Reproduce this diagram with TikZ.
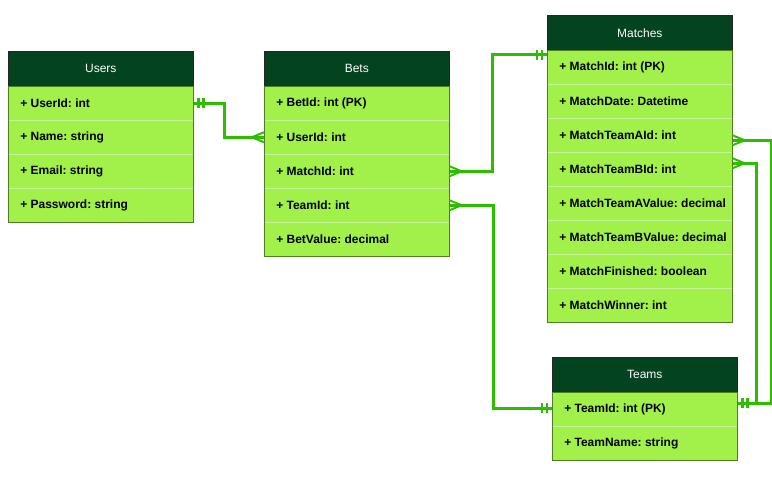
\documentclass[tikz,border=0pt]{standalone}
\usepackage{fontspec}
\setmainfont{Liberation Sans}
\frenchspacing
\usetikzlibrary{decorations.markings}
\definecolor{hdrgreen}{HTML}{03431F}
\definecolor{rowgreen}{HTML}{A2F04A}
\definecolor{rowedge}{HTML}{4F7F22}
\definecolor{rowsep}{HTML}{C6F49A}
\definecolor{linkgreen}{HTML}{2EBE00}

\begin{document}
\begin{tikzpicture}[x=0.75pt,y=-0.75pt,
  hdr/.style={draw=black!85,fill=hdrgreen,text=white,anchor=north west,
    minimum width=138.75pt,minimum height=26.25pt,inner sep=0pt,
    font=\fontsize{9}{11}\selectfont},
  attr/.style={draw=rowsep,fill=rowgreen,anchor=north west,
    minimum width=138.75pt,minimum height=25.5pt,inner xsep=9pt,inner ysep=0pt,
    font=\fontsize{9}{11}\selectfont\bfseries},
  link/.style={draw=linkgreen,line width=2.25pt},
  tick/.style={draw=linkgreen,line width=2pt},
  one start/.style={postaction={decorate,decoration={markings,
    mark=at position 3.75pt with {\draw[tick] (0,-3.75pt) -- (0,3.75pt);},
    mark=at position 7.5pt with {\draw[tick] (0,-3.75pt) -- (0,3.75pt);}}}},
  one end/.style={postaction={decorate,decoration={markings,
    mark=at position -3.75pt with {\draw[tick] (0,-3.75pt) -- (0,3.75pt);},
    mark=at position -7.5pt with {\draw[tick] (0,-3.75pt) -- (0,3.75pt);}}}},
  many start/.style={postaction={decorate,decoration={markings,
    mark=at position 9pt with {\draw[tick,line width=1.5pt] (-9pt,3.75pt) -- (0,0) -- (-9pt,-3.75pt);}}}},
  many end/.style={postaction={decorate,decoration={markings,
    mark=at position -9pt with {\draw[tick,line width=1.5pt] (9pt,3.75pt) -- (0,0) -- (9pt,-3.75pt);}}}}]
  \useasboundingbox (0,0) rectangle (772,477);

  % Users
  \node[hdr] (users) at (8,51) {Users};
  \foreach \t [count=\i] in {+ UserId: int,+ Name: string,+ Email: string,+ Password: string}
    \node[attr] (users-\i) at (8,{86+34*(\i-1)}) {\makebox[120.75pt][l]{\t}};
  \draw[rowedge] (users-1.north west) rectangle (users-4.south east);

  % Bets
  \node[hdr] (bets) at (264,51) {Bets};
  \foreach \t [count=\i] in {+ BetId: int (PK),+ UserId: int,+ MatchId: int,+ TeamId: int,+ BetValue: decimal}
    \node[attr] (bets-\i) at (264,{86+34*(\i-1)}) {\makebox[120.75pt][l]{\t}};
  \draw[rowedge] (bets-1.north west) rectangle (bets-5.south east);

  % Matches
  \node[hdr] (matches) at (547,15) {Matches};
  \foreach \t [count=\i] in {+ MatchId: int (PK),+ MatchDate: Datetime,+ MatchTeamAId: int,+ MatchTeamBId: int,
      + MatchTeamAValue: decimal,+ MatchTeamBValue: decimal,+ MatchFinished: boolean,+ MatchWinner: int}
    \node[attr] (matches-\i) at (547,{50+34*(\i-1)}) {\makebox[120.75pt][l]{\t}};
  \draw[rowedge] (matches-1.north west) rectangle (matches-8.south east);

  % Teams
  \node[hdr] (teams) at (552,357) {Teams};
  \foreach \t [count=\i] in {+ TeamId: int (PK),+ TeamName: string}
    \node[attr] (teams-\i) at (552,{392+34*(\i-1)}) {\makebox[120.75pt][l]{\t}};
  \draw[rowedge] (teams-1.north west) rectangle (teams-2.south east);

  % relations
  \draw[link,one start,many end] (users-1.east) -- ++(31,0) |- (bets-2.west);
  \draw[link,many start,one end] (bets-3.east) -- ++(43,0) |- ([yshift=-3.75pt]matches-1.north west);
  \draw[link,many start,one end] (bets-4.east) -- ++(44,0) |- ([yshift=0.75pt]teams-1.west);
  \draw[link,many start,one end] ([yshift=-3.75pt]matches-3.east) -- ++(39,0) |- ([yshift=4.5pt]teams-1.east);
  \draw[link,many start,one end] ([yshift=4.5pt]matches-4.east) -- ++(24,0) |- ([yshift=4.5pt]teams-1.east);
\end{tikzpicture}
\end{document}
